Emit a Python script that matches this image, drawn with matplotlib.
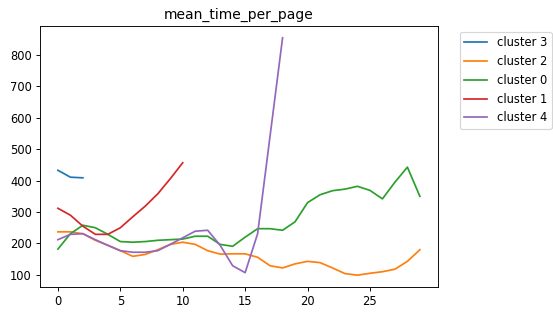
import matplotlib
matplotlib.use("Agg")
import matplotlib.pyplot as plt

# mean time per page, per cluster
cluster_3 = [433, 411, 409]
cluster_2 = [237, 237, 231, 210, 194, 177, 159, 165, 180, 197, 204, 197, 177, 166, 167,
             167, 156, 129, 122, 135, 143, 139, 122, 104, 99, 105, 110, 118, 143, 180]
cluster_0 = [182, 231, 258, 250, 229, 206, 204, 206, 210, 212, 214, 223, 223, 197, 191,
             220, 247, 247, 242, 269, 330, 355, 368, 373, 382, 369, 342, 395, 443, 350]
cluster_1 = [312, 290, 255, 229, 229, 250, 285, 319, 358, 406, 457]
cluster_4 = [212, 229, 231, 212, 194, 177, 172, 172, 177, 197, 218, 239, 242, 194, 129,
             107, 231, 543, 855]

series = [("cluster 3", cluster_3), ("cluster 2", cluster_2), ("cluster 0", cluster_0),
          ("cluster 1", cluster_1), ("cluster 4", cluster_4)]

# drawn at a lower dpi so text and lines come out smaller, like the original
dpi = 83
fig = plt.figure(figsize=(553 / dpi, 312 / dpi), dpi=dpi)
ax = fig.add_axes([0.072, 0.08, 0.72, 0.837])
for name, vals in series:
    ax.plot(range(len(vals)), vals, label=name)
ax.set_title("mean_time_per_page")
ax.set_xticks([0, 5, 10, 15, 20, 25])
ax.legend(loc="upper left", bbox_to_anchor=(1.04, 1))
fig.savefig("out.png", dpi=dpi)
